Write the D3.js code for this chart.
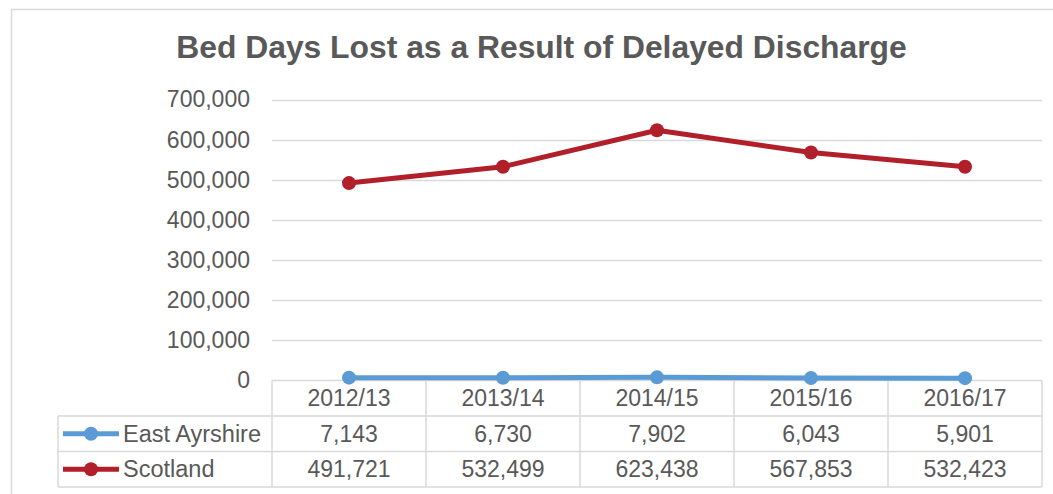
<!DOCTYPE html>
<html>
<head>
<meta charset="utf-8">
<script src="https://cdn.jsdelivr.net/npm/d3@7"></script>
<style>
  html, body { margin: 0; padding: 0; background: #fff; }
  svg { display: block; font-family: "Liberation Sans", Arial, sans-serif; }
</style>
</head>
<body>
<svg id="chart" width="1053" height="494"></svg>
<script>
// Financial years
const years = ["2012/13", "2013/14", "2014/15", "2015/16", "2016/17"];
// Bed days lost per year
const eastAyrshire = [7143, 6730, 7902, 6043, 5901];
const scotland = [491721, 532499, 623438, 567853, 532423];
// Y axis ticks
const yTicks = [0, 100000, 200000, 300000, 400000, 500000, 600000, 700000];

const seriesList = [
  { name: "East Ayrshire", values: eastAyrshire, color: "#5B9BD5" },
  { name: "Scotland", values: scotland, color: "#B1202A" }
];

const svg = d3.select("#chart");
const textColor = "#595959";
const gridColor = "#D9D9D9";

const plot = { left: 272, right: 1042, top: 99.5, bottom: 380.5 };
const tableRows = [380.5, 416, 451.5, 487];
const legendLeft = 58;

const x = d3.scaleBand().domain(years).range([plot.left, plot.right]);
const y = d3.scaleLinear().domain([0, 700000]).range([plot.bottom, plot.top]);
const fmt = d3.format(",");

// Chart frame
svg.append("rect")
  .attr("x", 11.5).attr("y", 9.5)
  .attr("width", 1060).attr("height", 500)
  .attr("fill", "none").attr("stroke", gridColor).attr("stroke-width", 1.5);

// Title, fitted to its span across the top
const title = svg.append("text")
  .attr("x", 541.5).attr("y", 57.5)
  .attr("text-anchor", "middle")
  .attr("font-family", "'Liberation Sans', Arial, sans-serif")
  .attr("font-size", 27).attr("font-weight", "bold")
  .attr("fill", textColor)
  .text("Bed Days Lost as a Result of Delayed Discharge");
const tw = title.node().getComputedTextLength();
title.attr("font-size", 27 * 731 / tw);

// Gridlines
svg.append("g").selectAll("line")
  .data(yTicks.filter(d => d > 0))
  .join("line")
  .attr("x1", plot.left).attr("x2", plot.right)
  .attr("y1", d => Math.round(y(d)) + 0.5).attr("y2", d => Math.round(y(d)) + 0.5)
  .attr("stroke", gridColor).attr("stroke-width", 1.5);

// Y axis labels
const yAxis = d3.axisLeft(y).tickValues(yTicks).tickFormat(fmt).tickSize(0).tickPadding(22);
const yg = svg.append("g").attr("transform", `translate(${plot.left},0)`).call(yAxis);
yg.select(".domain").remove();
yg.selectAll("text").attr("font-size", 23).attr("fill", textColor)
  .attr("font-family", "Liberation Sans, Arial, sans-serif");

// Data table grid
const tg = svg.append("g").attr("stroke", gridColor).attr("stroke-width", 1.5).attr("fill", "none");
tg.append("line").attr("x1", plot.left).attr("x2", plot.right).attr("y1", tableRows[0]).attr("y2", tableRows[0]);
[1, 2, 3].forEach(i => {
  tg.append("line").attr("x1", legendLeft).attr("x2", plot.right)
    .attr("y1", tableRows[i]).attr("y2", tableRows[i]);
});
years.forEach(yr => {
  tg.append("line").attr("x1", x(yr)).attr("x2", x(yr)).attr("y1", tableRows[0]).attr("y2", tableRows[3]);
});
tg.append("line").attr("x1", plot.right).attr("x2", plot.right).attr("y1", tableRows[0]).attr("y2", tableRows[3]);
tg.append("line").attr("x1", legendLeft).attr("x2", legendLeft).attr("y1", tableRows[1]).attr("y2", tableRows[3]);

// Category header row
svg.append("g").selectAll("text")
  .data(years).join("text")
  .attr("x", d => x(d) + x.bandwidth() / 2)
  .attr("y", (tableRows[0] + tableRows[1]) / 2)
  .attr("dy", "0.35em")
  .attr("text-anchor", "middle")
  .attr("font-size", 23).attr("fill", textColor)
  .text(d => d);

// Value rows with legend keys
seriesList.forEach((s, i) => {
  const cy = (tableRows[i + 1] + tableRows[i + 2]) / 2;
  const row = svg.append("g");
  row.append("line").attr("x1", 63).attr("x2", 119).attr("y1", cy).attr("y2", cy)
    .attr("stroke", s.color).attr("stroke-width", 5);
  row.append("circle").attr("cx", 91).attr("cy", cy).attr("r", 7).attr("fill", s.color);
  row.append("text").attr("x", 123).attr("y", cy).attr("dy", "0.35em")
    .attr("font-size", 23.5).attr("fill", textColor).text(s.name);
  row.selectAll("text.val").data(s.values).join("text")
    .attr("class", "val")
    .attr("x", (d, j) => x(years[j]) + x.bandwidth() / 2)
    .attr("y", cy).attr("dy", "0.35em")
    .attr("text-anchor", "middle")
    .attr("font-size", 23).attr("fill", textColor)
    .text(d => fmt(d));
});

// Lines and markers
const line = d3.line()
  .x((d, j) => x(years[j]) + x.bandwidth() / 2)
  .y(d => y(d));

seriesList.forEach(s => {
  svg.append("path").datum(s.values)
    .attr("d", line).attr("fill", "none")
    .attr("stroke", s.color).attr("stroke-width", 5)
    .attr("stroke-linejoin", "round").attr("stroke-linecap", "round");
  svg.append("g").selectAll("circle").data(s.values).join("circle")
    .attr("cx", (d, j) => x(years[j]) + x.bandwidth() / 2)
    .attr("cy", d => y(d))
    .attr("r", 7).attr("fill", s.color);
});
</script>
</body>
</html>
